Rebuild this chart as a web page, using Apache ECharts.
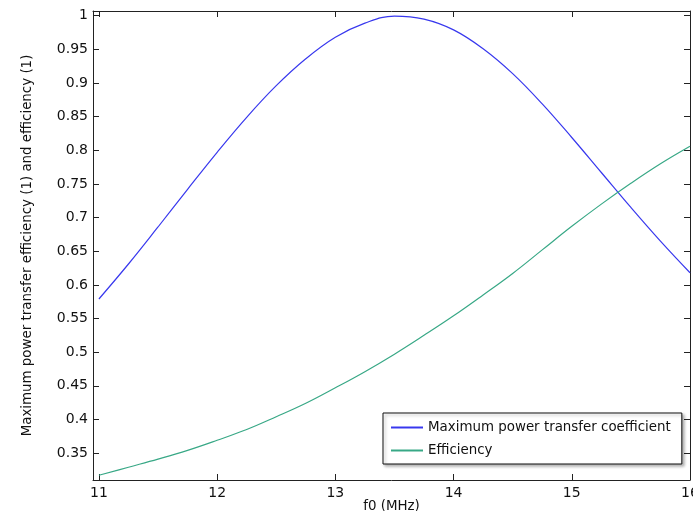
<!DOCTYPE html>
<html lang="en">
<head>
  <meta charset="UTF-8">
  <title>Power transfer vs frequency</title>
  <style>
    html, body { margin: 0; padding: 0; background: #fff; }
    #main { width: 693px; height: 511px; }
  </style>
</head>
<body>
  <div id="main"></div>
  <script src="https://cdn.jsdelivr.net/npm/echarts@6/dist/echarts.min.js"></script>
  <script>
    // f0 in MHz
    const freq = [11, 11.25, 11.5, 11.75, 12, 12.25, 12.5, 12.75, 13, 13.25, 13.5,
                  13.75, 14, 14.25, 14.5, 14.75, 15, 15.25, 15.5, 15.75, 16];
    const maxPower = [0.579, 0.631, 0.686, 0.742, 0.797, 0.849, 0.896, 0.936, 0.968, 0.989, 0.9995,
                      0.995, 0.979, 0.951, 0.914, 0.869, 0.819, 0.767, 0.715, 0.665, 0.618];
    const efficiency = [0.317, 0.329, 0.341, 0.354, 0.369, 0.385, 0.404, 0.424, 0.447, 0.471, 0.497,
                        0.525, 0.554, 0.585, 0.617, 0.652, 0.687, 0.720, 0.751, 0.780, 0.806];
    const xTicks = [11, 12, 13, 14, 15, 16];
    const yTicks = [0.35, 0.4, 0.45, 0.5, 0.55, 0.6, 0.65, 0.7, 0.75, 0.8, 0.85, 0.9, 0.95, 1];

    const font = 'DejaVu Sans';
    const xMin = 10.95, xMax = 16, yMin = 0.31, yMax = 1.007;

    const pairs = ys => freq.map((f, i) => [f, ys[i]]);

    const frameAxis = {
      axisLine: { show: true, lineStyle: { color: '#222', width: 1 } },
      splitLine: { show: false }
    };

    const chart = echarts.init(document.getElementById('main'), null, { renderer: 'canvas' });
    chart.setOption({
      animation: false,
      backgroundColor: '#fff',
      grid: { left: 93, right: 3, top: 11, bottom: 31, containLabel: false, outerBoundsMode: 'none' },
      legend: {
        orient: 'vertical',
        left: 383,
        top: 413,
        padding: [8, 11, 7, 7],
        itemWidth: 32,
        itemHeight: 13,
        itemGap: 10,
        backgroundColor: '#fff',
        borderColor: '#111',
        borderWidth: 1,
        borderRadius: 0,
        shadowColor: 'rgba(0,0,0,0.3)',
        shadowBlur: 3,
        shadowOffsetX: 2,
        shadowOffsetY: 2,
        itemStyle: { color: 'rgba(0,0,0,0)', borderWidth: 0, opacity: 0 },
        textStyle: { fontFamily: font, fontSize: 13.4, color: '#111' },
        data: ['Maximum power transfer coefficient', 'Efficiency']
      },
      xAxis: [
        Object.assign({}, frameAxis, {
          type: 'value', position: 'bottom', min: xMin, max: xMax,
          name: 'f0 (MHz)', nameLocation: 'middle', nameGap: 20, nameMoveOverlap: false,
          nameTextStyle: { fontFamily: font, fontSize: 13.4, color: '#111' },
          axisTick: { show: true, inside: true, length: 6, customValues: xTicks, lineStyle: { color: '#222' } },
          axisLabel: { show: true, customValues: xTicks, margin: 6, fontFamily: font, fontSize: 14, color: '#111' }
        }),
        Object.assign({}, frameAxis, {
          type: 'value', position: 'top', min: xMin, max: xMax,
          axisTick: { show: true, inside: true, length: 6, customValues: xTicks, lineStyle: { color: '#222' } },
          axisLabel: { show: false }
        })
      ],
      yAxis: [
        Object.assign({}, frameAxis, {
          type: 'value', position: 'left', min: yMin, max: yMax,
          name: 'Maximum power transfer efficiency (1) and efficiency (1)',
          nameLocation: 'middle', nameGap: 59, nameMoveOverlap: false,
          nameTextStyle: { fontFamily: font, fontSize: 13.4, color: '#111' },
          axisTick: { show: true, inside: true, length: 6, customValues: yTicks, lineStyle: { color: '#222' } },
          axisLabel: { show: true, customValues: yTicks, margin: 5, fontFamily: font, fontSize: 14, color: '#111' }
        }),
        Object.assign({}, frameAxis, {
          type: 'value', position: 'right', min: yMin, max: yMax,
          axisTick: { show: true, inside: true, length: 6, customValues: yTicks, lineStyle: { color: '#222' } },
          axisLabel: { show: false }
        })
      ],
      series: [
        {
          name: 'Maximum power transfer coefficient',
          type: 'line', smooth: 0.4, symbol: 'none',
          xAxisIndex: 0, yAxisIndex: 0,
          lineStyle: { color: '#3838ee', width: 1.2 },
          itemStyle: { color: '#3838ee' },
          data: pairs(maxPower)
        },
        {
          name: 'Efficiency',
          type: 'line', smooth: 0.4, symbol: 'none',
          xAxisIndex: 0, yAxisIndex: 0,
          lineStyle: { color: '#38a886', width: 1.2 },
          itemStyle: { color: '#38a886' },
          data: pairs(efficiency)
        }
      ]
    });
  </script>
</body>
</html>
